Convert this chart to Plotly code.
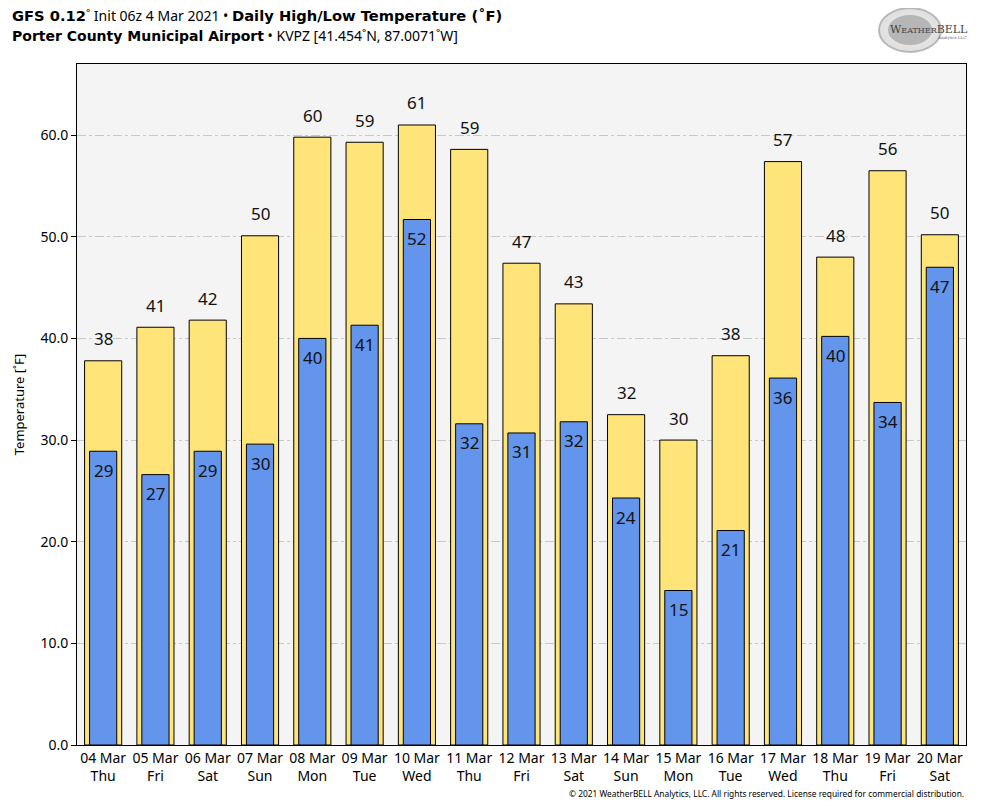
import plotly.graph_objects as go

dates = ["04 Mar", "05 Mar", "06 Mar", "07 Mar", "08 Mar", "09 Mar", "10 Mar", "11 Mar", "12 Mar",
         "13 Mar", "14 Mar", "15 Mar", "16 Mar", "17 Mar", "18 Mar", "19 Mar", "20 Mar"]
days = ["Thu", "Fri", "Sat", "Sun", "Mon", "Tue", "Wed", "Thu", "Fri",
        "Sat", "Sun", "Mon", "Tue", "Wed", "Thu", "Fri", "Sat"]
highs = [37.8, 41.1, 41.8, 50.1, 59.8, 59.3, 61.0, 58.6, 47.4, 43.4, 32.5, 30.0, 38.3, 57.4, 48.0, 56.5, 50.2]
lows = [28.9, 26.6, 28.9, 29.6, 40.0, 41.3, 51.7, 31.6, 30.7, 31.8, 24.3, 15.2, 21.1, 36.1, 40.2, 33.7, 47.0]
yticks = [0, 10, 20, 30, 40, 50, 60]

cats = [f"{d}<br>{w}" for d, w in zip(dates, days)]
x = list(range(len(cats)))

FONT = "Noto Sans"

# plot area in page pixels (page has 8px body margin)
PX0, PX1, PY0, PY1 = 77, 966, 64, 745


def px(v):
    return (v - PX0) / (PX1 - PX0)


def py(v):
    return (PY1 - v) / (PY1 - PY0)


def bold(s, size):
    return f"<span style='font-family:DejaVu Sans;font-size:{size}px'><b>{s}</b></span>"


fig = go.Figure()
fig.add_trace(go.Bar(x=x, y=highs, width=0.71, marker=dict(color="#FFE47A", line=dict(color="black", width=1)),
                     name="High", hoverinfo="y"))
fig.add_trace(go.Bar(x=x, y=lows, width=0.52, marker=dict(color="#6495ED", line=dict(color="black", width=1)),
                     name="Low", hoverinfo="y"))

annotations = []
for xi, h, l in zip(x, highs, lows):
    annotations.append(dict(x=xi, y=h, xref="x", yref="y", text=str(int(round(h))), showarrow=False,
                            yshift=22, font=dict(family=FONT, size=17, color="#111")))
    annotations.append(dict(x=xi, y=l, xref="x", yref="y", text=str(int(round(l))), showarrow=False,
                            yshift=-19, font=dict(family=FONT, size=17, color="#111")))

annotations.append(dict(x=px(10), y=py(16), xref="paper", yref="paper", xanchor="left", yanchor="middle",
                        showarrow=False, align="left",
                        text=bold("GFS 0.12", 14.7) + "˚ Init 06z 4 Mar 2021 • " + bold("Daily High/Low Temperature (˚F)", 14.7),
                        font=dict(family=FONT, size=14, color="black")))
annotations.append(dict(x=px(10), y=py(36), xref="paper", yref="paper", xanchor="left", yanchor="middle",
                        showarrow=False, align="left",
                        text=bold("Porter County Municipal Airport", 14) + " • KVPZ [41.454˚N, 87.0071˚W]",
                        font=dict(family=FONT, size=14, color="black")))
annotations.append(dict(x=px(966), y=py(794), xref="paper", yref="paper", xanchor="right", yanchor="middle",
                        showarrow=False,
                        text="© 2021 WeatherBELL Analytics, LLC. All rights reserved. License required for commercial distribution.",
                        font=dict(family=FONT, size=8.4, color="black")))
# logo text
annotations.append(dict(x=px(929), y=py(29), xref="paper", yref="paper", xanchor="center", yanchor="middle",
                        showarrow=False, text="W<span style='font-size:8px'>EATHER</span>BELL",
                        font=dict(family="DejaVu Serif", size=11, color="#444")))
annotations.append(dict(x=px(951), y=py(38), xref="paper", yref="paper", xanchor="center", yanchor="middle",
                        showarrow=False, text="Analytics LLC",
                        font=dict(family="DejaVu Serif", size=4, color="#666")))

shapes = [
    dict(type="circle", xref="paper", yref="paper", x0=px(879), x1=px(941), y0=py(52), y1=py(8),
         fillcolor="rgba(170,170,170,0.35)", line=dict(color="rgba(160,160,160,0.7)", width=2), layer="below"),
    dict(type="circle", xref="paper", yref="paper", x0=px(887), x1=px(933), y0=py(46), y1=py(14),
         fillcolor="rgba(140,140,140,0.5)", line=dict(color="rgba(230,230,230,0.9)", width=2), layer="below"),
]

fig.update_layout(
    width=984, height=808,
    margin=dict(l=PX0 - 8, r=984 + 8 - PX1, t=PY0 - 8, b=808 + 8 - PY1),
    paper_bgcolor="white", plot_bgcolor="#f4f4f4",
    barmode="overlay", showlegend=False,
    font=dict(family=FONT, size=14, color="black"),
    annotations=annotations, shapes=shapes,
    xaxis=dict(range=[-0.5, 16.5], tickmode="array", tickvals=x, ticktext=cats,
               showline=True, linecolor="black", linewidth=1, mirror=True, ticks="", showgrid=False,
               tickfont=dict(size=14), zeroline=False),
    yaxis=dict(range=[0, 67], tickmode="array", tickvals=yticks, ticktext=[f"{v:.1f}" for v in yticks],
               showline=True, linecolor="black", linewidth=1, mirror=True, ticks="outside", ticklen=5,
               tickcolor="black", showgrid=True, gridcolor="#c8c8c8", griddash="dashdot", gridwidth=1,
               zeroline=False, title=dict(text="Temperature [˚F]", font=dict(size=13), standoff=12),
               tickfont=dict(size=14)),
)

fig.write_html("out.html")
